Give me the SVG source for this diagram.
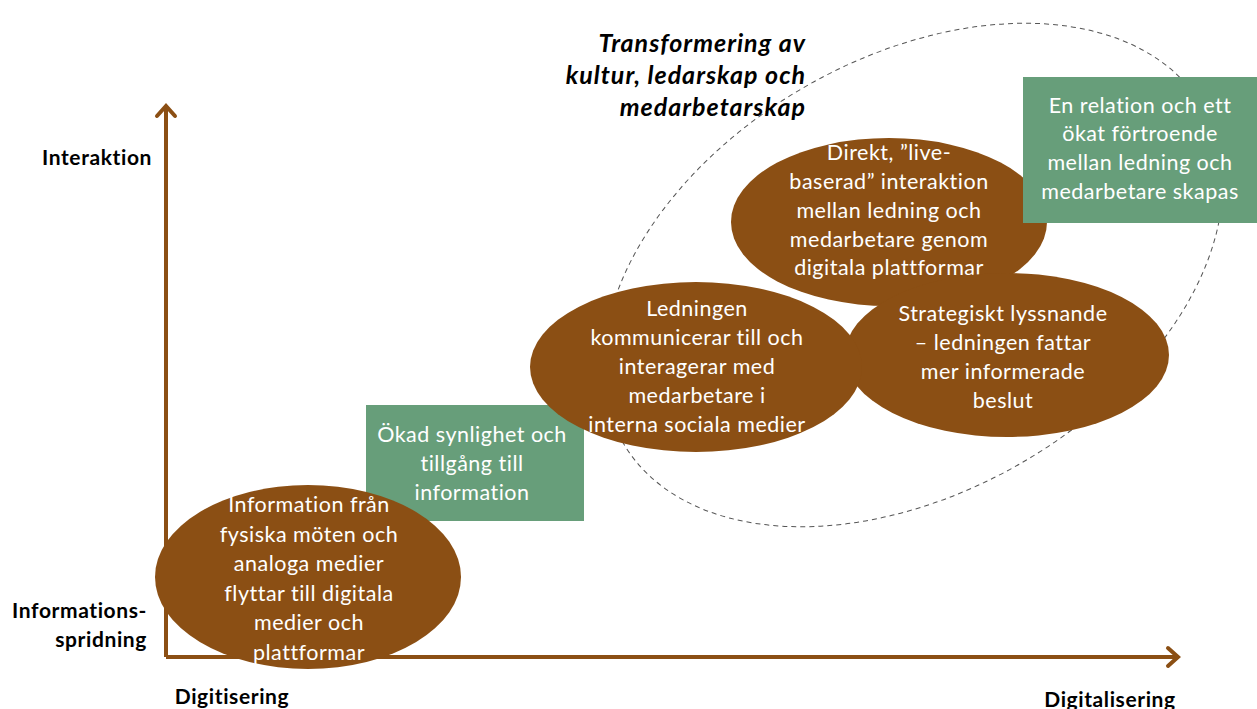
<svg xmlns="http://www.w3.org/2000/svg" width="1257" height="709" viewBox="0 0 1257 709">
<style>
.node{fill:#8B4F14}
.box{fill:#679E7A}
.wt{font-family:Lato,"Open Sans",sans-serif;font-size:21.5px;letter-spacing:0.5px;fill:#ffffff;text-anchor:middle}
.ax{font-family:Lato,"Open Sans",sans-serif;font-size:21px;letter-spacing:0.6px;font-weight:bold;fill:#000}
.title{font-family:Lato,"Open Sans",sans-serif;font-size:25px;letter-spacing:1px;font-weight:bold;font-style:italic;fill:#000;text-anchor:end}
.axis{stroke:#8B4F14;stroke-width:4;fill:none}
</style>
<defs>
<marker id="arr" markerUnits="userSpaceOnUse" markerWidth="24" markerHeight="24" refX="13" refY="12" orient="auto">
<path d="M3,3 L13,12 L3,21" fill="none" stroke="#8B4F14" stroke-width="4" stroke-linecap="round" stroke-linejoin="miter"/>
</marker>
</defs>
<rect width="1257" height="709" fill="#fff"/>
<g id="transformation-zone">
<ellipse cx="913" cy="275" rx="335" ry="217" transform="rotate(-30 913 275)" fill="none" stroke="#555" stroke-width="1" stroke-dasharray="5 4"/>
</g>
<g id="connectors">
<line class="axis" x1="166" y1="657" x2="166" y2="106" marker-end="url(#arr)"/>
<line class="axis" x1="166" y1="657" x2="1178" y2="657" marker-end="url(#arr)"/>
</g>
<g id="title">
<text class="title" x="806" y="52">Transformering av</text>
<text class="title" x="806" y="84">kultur, ledarskap och</text>
<text class="title" x="806" y="116">medarbetarskap</text>
</g>
<g id="axis-labels">
<text class="ax" x="152" y="165" text-anchor="end">Interaktion</text>
<text class="ax" x="147" y="618" text-anchor="end">Informations-</text>
<text class="ax" x="147" y="647" text-anchor="end">spridning</text>
<text class="ax" x="232" y="704" text-anchor="middle">Digitisering</text>
<text class="ax" x="1110" y="707" text-anchor="middle">Digitalisering</text>
</g>
<g id="node-okad">
<rect class="box" x="366" y="405" width="218" height="116"/>
<text class="wt" x="472" y="442">Ökad synlighet och</text>
<text class="wt" x="472" y="471">tillgång till</text>
<text class="wt" x="472" y="500">information</text>
</g>
<g id="node-info">
<ellipse class="node" cx="308" cy="577" rx="153" ry="92"/>
<text class="wt" x="309" y="512">Information från</text>
<text class="wt" x="309" y="542">fysiska möten och</text>
<text class="wt" x="309" y="571">analoga medier</text>
<text class="wt" x="309" y="601">flyttar till digitala</text>
<text class="wt" x="309" y="630">medier och</text>
<text class="wt" x="309" y="660">plattformar</text>
</g>
<g id="node-direkt">
<ellipse class="node" cx="889" cy="222" rx="158" ry="84"/>
<text class="wt" x="889" y="160">Direkt, ”live-</text>
<text class="wt" x="889" y="189">baserad” interaktion</text>
<text class="wt" x="889" y="218">mellan ledning och</text>
<text class="wt" x="889" y="247">medarbetare genom</text>
<text class="wt" x="889" y="275">digitala plattformar</text>
</g>
<g id="node-strategiskt">
<ellipse class="node" cx="1007" cy="355" rx="162" ry="82"/>
<text class="wt" x="1003" y="321">Strategiskt lyssnande</text>
<text class="wt" x="1003" y="350">– ledningen fattar</text>
<text class="wt" x="1003" y="379">mer informerade</text>
<text class="wt" x="1003" y="408">beslut</text>
</g>
<g id="node-ledningen">
<ellipse class="node" cx="696" cy="367" rx="166" ry="85"/>
<text class="wt" x="697" y="316">Ledningen</text>
<text class="wt" x="697" y="345">kommunicerar till och</text>
<text class="wt" x="697" y="374">interagerar med</text>
<text class="wt" x="697" y="403">medarbetare i</text>
<text class="wt" x="697" y="432">interna sociala medier</text>
</g>
<g id="node-relation">
<rect class="box" x="1023" y="77" width="234" height="146"/>
<text class="wt" x="1140" y="113">En relation och ett</text>
<text class="wt" x="1140" y="141">ökat förtroende</text>
<text class="wt" x="1140" y="170">mellan ledning och</text>
<text class="wt" x="1140" y="199">medarbetare skapas</text>
</g>
</svg>
